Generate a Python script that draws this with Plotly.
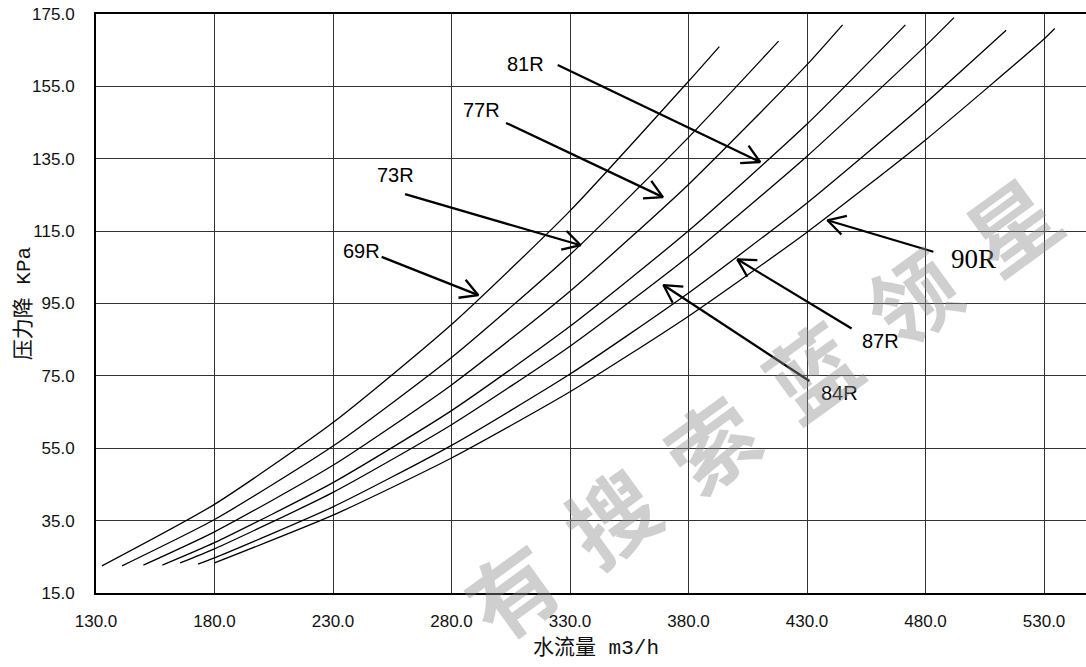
import math
import plotly.graph_objects as go

# Pressure-drop curves: water flow (m3/h) vs pressure drop (KPa) per model
flow_69R = [132.5, 180, 230, 280, 330, 380, 393]
drop_69R = [22.5, 39.5, 62.1, 89.2, 120.6, 156.4, 166.0]

flow_73R = [141, 180, 230, 280, 330, 380, 418]
drop_73R = [22.5, 35.3, 55.6, 80.1, 108.5, 140.9, 167.5]

flow_77R = [150, 180, 230, 280, 330, 380, 430, 445]
drop_77R = [22.7, 31.9, 50.3, 72.5, 98.4, 127.9, 161.0, 172.0]

flow_81R = [158, 180, 230, 280, 330, 380, 430, 471.5]
drop_81R = [22.7, 28.9, 45.5, 65.4, 88.7, 115.1, 144.6, 172.0]

flow_84R = [165.5, 180, 230, 280, 330, 380, 430, 480, 492]
drop_84R = [23.3, 27.2, 42.8, 61.5, 83.2, 108.0, 135.7, 166.2, 174.0]

flow_87R = [173, 180, 230, 280, 330, 380, 430, 480, 514]
drop_87R = [23.0, 24.7, 38.8, 55.8, 75.5, 97.9, 122.8, 150.4, 170.5]

flow_90R = [180, 230, 280, 330, 380, 430, 480, 530, 534.5]
drop_90R = [23.3, 36.5, 52.3, 70.6, 91.5, 114.7, 140.2, 168.1, 171.0]

# Callout labels and their arrows (data coordinates)
label_text = ["81R", "77R", "73R", "69R", "90R", "87R", "84R"]
label_x = [311.3, 292.7, 256.2, 242.1, 500.2, 461.2, 443.5]
label_y = [161.3, 148.6, 130.5, 109.5, 107.3, 84.7, 70.4]
tail_x = [324.8, 303.0, 260.4, 250.5, 483.3, 448.8, 431.0]
tail_y = [160.9, 144.9, 125.2, 107.9, 109.3, 88.1, 73.6]
tip_x = [410.2, 369.2, 334.5, 291.3, 438.6, 400.6, 369.4]
tip_y = [134.1, 124.4, 111.1, 97.3, 118.0, 107.2, 100.1]

x_title = "水流量 m3/h"
y_title = "压力降 KPa"
watermark_chars = ["有", "搜", "索", "蓝", "领", "星"]

X_RANGE = [130, 547.7]
Y_RANGE = [15, 175]
MARGIN = dict(l=96, r=0, t=14, b=74)
W, H = 1086, 667

curves = [
    ("69R", flow_69R, drop_69R),
    ("73R", flow_73R, drop_73R),
    ("77R", flow_77R, drop_77R),
    ("81R", flow_81R, drop_81R),
    ("84R", flow_84R, drop_84R),
    ("87R", flow_87R, drop_87R),
    ("90R", flow_90R, drop_90R),
]

fig = go.Figure()
for name, xs, ys in curves:
    fig.add_trace(go.Scatter(
        x=xs, y=ys, name=name, mode="lines",
        line=dict(color="black", width=1.3, shape="spline", smoothing=0.6),
        hoverinfo="skip",
    ))

# pixel scale of each axis, used to give the arrowheads a fixed on-screen size
sx = (W - MARGIN["l"] - MARGIN["r"]) / (X_RANGE[1] - X_RANGE[0])
sy = (H - MARGIN["t"] - MARGIN["b"]) / (Y_RANGE[1] - Y_RANGE[0])
HEAD_LEN = 20.0
HEAD_ANGLE = math.radians(29)

arrow_x, arrow_y = [], []
for i in range(len(label_text)):
    # shaft
    arrow_x += [tail_x[i], tip_x[i], None]
    arrow_y += [tail_y[i], tip_y[i], None]
    # open "V" head
    dx = (tail_x[i] - tip_x[i]) * sx
    dy = (tail_y[i] - tip_y[i]) * sy
    base = math.atan2(dy, dx)
    ends = []
    for sgn in (1, -1):
        a = base + sgn * HEAD_ANGLE
        ends.append((tip_x[i] + HEAD_LEN * math.cos(a) / sx,
                     tip_y[i] + HEAD_LEN * math.sin(a) / sy))
    arrow_x += [ends[0][0], tip_x[i], ends[1][0], None]
    arrow_y += [ends[0][1], tip_y[i], ends[1][1], None]

fig.add_trace(go.Scatter(
    x=arrow_x, y=arrow_y, mode="lines", showlegend=False,
    line=dict(color="black", width=2.3), hoverinfo="skip",
))

annotations = []
for i, txt in enumerate(label_text):
    serif = txt == "90R"
    annotations.append(dict(
        x=label_x[i], y=label_y[i], xref="x", yref="y",
        text=txt, showarrow=False, xanchor="center", yanchor="middle",
        font=dict(family="Liberation Serif" if serif else "Liberation Sans",
                  size=27 if serif else 20, color="black"),
    ))

# axis titles
annotations.append(dict(
    x=0.5055, y=-0.095, xref="paper", yref="paper", text=x_title,
    showarrow=False, xanchor="center", yanchor="middle",
    font=dict(family="Liberation Mono, Noto Sans CJK SC", size=21, color="#111"),
))
annotations.append(dict(
    x=-0.073, y=0.5, xref="paper", yref="paper", text=y_title,
    showarrow=False, xanchor="center", yanchor="middle", textangle=-90,
    font=dict(family="Liberation Mono, Noto Sans CJK SC", size=21, color="#111"),
))

# diagonal watermark, one glyph at a time along a rising line
wm_start = (0.4182, 0.0086)
wm_step = (0.1010, 0.1264)
for k, ch in enumerate(watermark_chars):
    annotations.append(dict(
        x=wm_start[0] + k * wm_step[0], y=wm_start[1] + k * wm_step[1],
        xref="paper", yref="paper", text=ch, showarrow=False,
        xanchor="center", yanchor="middle", textangle=-36,
        font=dict(family="Noto Sans CJK SC", size=88, weight="bold",
                  color="rgba(140,140,140,0.42)"),
    ))

tick_font = dict(family="Liberation Sans", size=17, color="#111")

fig.update_layout(
    width=W, height=H,
    margin=MARGIN,
    paper_bgcolor="white", plot_bgcolor="white",
    showlegend=False,
    annotations=annotations,
    xaxis=dict(
        range=X_RANGE, tick0=130, dtick=50, tickformat=".1f",
        showgrid=True, gridcolor="#333", gridwidth=1,
        showline=True, linecolor="black", linewidth=1.5, mirror=True,
        zeroline=False, ticks="", ticklabelstandoff=12, tickfont=tick_font,
        fixedrange=True,
    ),
    yaxis=dict(
        range=Y_RANGE, tick0=15, dtick=20, tickformat=".1f",
        showgrid=True, gridcolor="#333", gridwidth=1,
        showline=True, linecolor="black", linewidth=2,
        zeroline=False, ticks="", ticklabelstandoff=16, tickfont=tick_font,
        fixedrange=True,
    ),
)

fig.write_html("out.html", config={"displayModeBar": False})
